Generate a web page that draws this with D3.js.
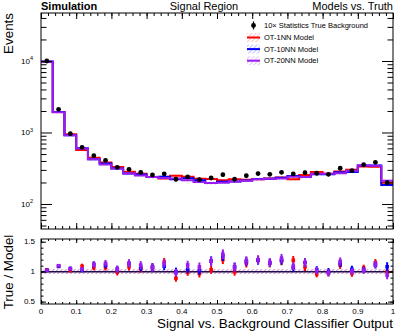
<!DOCTYPE html>
<html>
<head>
<meta charset="utf-8">
<script src="https://cdn.jsdelivr.net/npm/d3@7"></script>
<style>
  body { margin: 0; background: #fff; }
  svg { display: block; font-family: "Liberation Sans", Arial, sans-serif; }
</style>
</head>
<body>
<div id="chart"></div>
<script>
// 30 equal bins on [0, 1]
const nBins = 30;

// true background (10x stats) and its stat error
const trueBkg = [10000, 2110, 962, 621, 474, 408, 326, 305, 277, 255, 263, 222, 239, 219, 231,
  257, 222, 249, 266, 260, 277, 263, 274, 269, 260, 316, 292, 355, 383, 199];
const trueErr = [100, 46, 31, 25, 22, 20, 18, 17, 17, 16, 16, 15, 15, 15, 15,
  16, 15, 16, 16, 16, 17, 16, 17, 16, 16, 18, 17, 19, 20, 14];

// model predictions
const ot1nn = [9700, 1935, 943, 570, 443, 381, 329, 282, 264, 238, 227, 249, 241, 226, 224,
  214, 222, 218, 222, 228, 235, 221, 254, 280, 265, 285, 301, 335, 333, 199];
const ot10nn = [9800, 1940, 916, 603, 423, 368, 313, 268, 259, 238, 241, 222, 230, 215, 196,
  204, 206, 213, 224, 226, 233, 246, 238, 261, 260, 277, 281, 345, 345, 184];
const ot20nn = [9800, 1920, 916, 597, 423, 358, 313, 268, 250, 238, 231, 227, 215, 203, 197,
  199, 206, 211, 222, 226, 227, 241, 238, 264, 265, 270, 292, 348, 342, 212];
const modelRelErr = [0.04, 0.04, 0.04];

const modelNames = ["OT-1NN Model", "OT-10NN Model", "OT-20NN Model"];
const modelColors = ["#ff0000", "#0000ff", "#9a1cf0"];
const hatchColors = ["#ff9a9a", "#9a9aff", "#d49af5"];

const xMajor = d3.range(0, 1.0001, 0.1);
const xMinor = d3.range(0, 1.0001, 0.02);
const yMajor = [100, 1000, 10000];
const yMinor = [50, 60, 70, 80, 90, 200, 300, 400, 500, 600, 700, 800, 900,
  2000, 3000, 4000, 5000, 6000, 7000, 8000, 9000, 20000, 30000, 40000];
const rMajor = [0.5, 1, 1.5];
const rMinor = [0.5, 0.6, 0.7, 0.8, 0.9, 1, 1.1, 1.2, 1.3, 1.4, 1.5];

const W = 407, H = 335;
const svg = d3.select("#chart").append("svg").attr("width", W).attr("height", H);

const x = d3.scaleLinear().domain([0, 1]).range([41, 393]);
const y = d3.scaleLog().domain([44.7, 46900]).range([229, 13]);
const yr = d3.scaleLinear().domain([0.46, 1.545]).range([304, 239]);

const edges = d3.range(nBins + 1).map(i => i / nBins);
const centers = d3.range(nBins).map(i => (i + 0.5) / nBins);
const models = [ot1nn, ot10nn, ot20nn];

// hatch patterns
const defs = svg.append("defs");
hatchColors.forEach((c, i) => {
  const p = defs.append("pattern").attr("id", "hatch" + i).attr("patternUnits", "userSpaceOnUse")
    .attr("width", 3).attr("height", 3).attr("patternTransform", "rotate(45)");
  p.append("line").attr("x1", 0).attr("y1", 0).attr("x2", 0).attr("y2", 3)
    .attr("stroke", c).attr("stroke-width", 1.2);
});
defs.append("clipPath").attr("id", "clipTop").append("rect")
  .attr("x", 41).attr("y", 13).attr("width", 352).attr("height", 216);
defs.append("clipPath").attr("id", "clipRatio").append("rect")
  .attr("x", 41).attr("y", 239).attr("width", 352).attr("height", 65);

// ---------- top panel ----------
const topG = svg.append("g").attr("clip-path", "url(#clipTop)");

models.forEach((m, k) => {
  topG.append("g").selectAll("rect").data(m).enter().append("rect")
    .attr("x", (d, i) => x(edges[i]))
    .attr("width", (d, i) => x(edges[i + 1]) - x(edges[i]))
    .attr("y", d => y(d * (1 + modelRelErr[k])))
    .attr("height", d => y(d * (1 - modelRelErr[k])) - y(d * (1 + modelRelErr[k])))
    .attr("fill", "url(#hatch" + k + ")");
});

const step = d3.line().curve(d3.curveStepAfter).x(d => x(d[0])).y(d => y(d[1]));
models.forEach((m, k) => {
  const pts = m.map((v, i) => [edges[i], v]).concat([[1, m[nBins - 1]]]);
  topG.append("path").attr("d", step(pts)).attr("fill", "none")
    .attr("stroke", modelColors[k]).attr("stroke-width", 2);
});

topG.append("g").selectAll("line").data(trueBkg).enter().append("line")
  .attr("x1", (d, i) => x(centers[i])).attr("x2", (d, i) => x(centers[i]))
  .attr("y1", (d, i) => y(d - trueErr[i])).attr("y2", (d, i) => y(d + trueErr[i]))
  .attr("stroke", "#000").attr("stroke-width", 1.2);
topG.append("g").selectAll("circle").data(trueBkg).enter().append("circle")
  .attr("cx", (d, i) => x(centers[i])).attr("cy", d => y(d)).attr("r", 2.4).attr("fill", "#000");

// ---------- ratio panel ----------
const rat = svg.append("g").attr("clip-path", "url(#clipRatio)");
[0, 1, 2].forEach(k => {
  rat.append("rect").attr("x", x(0)).attr("width", x(1) - x(0))
    .attr("y", yr(1 + modelRelErr[k])).attr("height", yr(1 - modelRelErr[k]) - yr(1 + modelRelErr[k]))
    .attr("fill", "url(#hatch" + (2 - k) + ")");
});
rat.append("line").attr("x1", x(0)).attr("x2", x(1)).attr("y1", yr(1)).attr("y2", yr(1))
  .attr("stroke", "#1c1050").attr("stroke-width", 1.5);

models.forEach((m, k) => {
  const g = rat.append("g");
  const ratio = trueBkg.map((t, i) => t / m[i]);
  const rErr = trueErr.map((e, i) => e / m[i]);
  g.selectAll("line").data(ratio).enter().append("line")
    .attr("x1", (d, i) => x(centers[i])).attr("x2", (d, i) => x(centers[i]))
    .attr("y1", (d, i) => yr(d - rErr[i])).attr("y2", (d, i) => yr(d + rErr[i]))
    .attr("stroke", modelColors[k]).attr("stroke-width", 2);
  g.selectAll("rect").data(ratio).enter().append("rect")
    .attr("x", (d, i) => x(centers[i]) - 1.8).attr("y", d => yr(d) - 1.8)
    .attr("width", 3.6).attr("height", 3.6).attr("fill", modelColors[k]);
});

// ---------- axes ----------
function tickSet(g, axis, values, size) {
  g.call(axis.tickValues(values).tickSize(size).tickFormat(""));
  g.select(".domain").remove();
  g.selectAll("line").attr("stroke", "#000");
}
function frameAxes(yScale, yT, yB, yMaj, yMin, xLen, yLen) {
  const a = svg.append("g");
  tickSet(a.append("g").attr("transform", `translate(0,${yB})`), d3.axisBottom(x), xMajor, -xLen);
  tickSet(a.append("g").attr("transform", `translate(0,${yB})`), d3.axisBottom(x), xMinor, -xLen / 2);
  tickSet(a.append("g").attr("transform", `translate(0,${yT})`), d3.axisTop(x), xMajor, -xLen);
  tickSet(a.append("g").attr("transform", `translate(0,${yT})`), d3.axisTop(x), xMinor, -xLen / 2);
  tickSet(a.append("g").attr("transform", "translate(41,0)"), d3.axisLeft(yScale), yMaj, -yLen);
  tickSet(a.append("g").attr("transform", "translate(41,0)"), d3.axisLeft(yScale), yMin, -yLen / 2);
  tickSet(a.append("g").attr("transform", "translate(393,0)"), d3.axisRight(yScale), yMaj, -yLen);
  tickSet(a.append("g").attr("transform", "translate(393,0)"), d3.axisRight(yScale), yMin, -yLen / 2);
  a.append("rect").attr("x", 41).attr("y", yT).attr("width", 352).attr("height", yB - yT)
    .attr("fill", "none").attr("stroke", "#000").attr("stroke-width", 1);
}
frameAxes(y, 13, 229, yMajor, yMinor, 6, 11);
frameAxes(yr, 239, 304, rMajor, rMinor, 4, 5);

// tick labels
const exp = { 100: "2", 1000: "3", 10000: "4" };
yMajor.forEach(v => {
  const t = svg.append("text").attr("x", 33).attr("y", y(v) + 3).attr("text-anchor", "end")
    .attr("font-size", 8).text("10");
  t.append("tspan").attr("dy", -3.5).attr("font-size", 5.5).text(exp[v]);
});
svg.append("g").selectAll("text").data(rMajor).enter().append("text")
  .attr("x", 35).attr("y", d => yr(d) + 2.8).attr("text-anchor", "end")
  .attr("font-size", 8).text(d => d);
svg.append("g").selectAll("text").data(xMajor).enter().append("text")
  .attr("x", d => x(d)).attr("y", 314).attr("text-anchor", "middle")
  .attr("font-size", 8).text(d => d3.format("~g")(+d.toFixed(1)));

// titles
svg.append("text").attr("x", 41).attr("y", 9.5).attr("font-size", 11).attr("font-weight", "bold").text("Simulation");
svg.append("text").attr("x", 204).attr("y", 9.5).attr("font-size", 11).attr("text-anchor", "middle").text("Signal Region");
svg.append("text").attr("x", 393).attr("y", 9.5).attr("font-size", 11).attr("text-anchor", "end").text("Models vs. Truth");
svg.append("text").attr("transform", "translate(13,13) rotate(-90)").attr("text-anchor", "end")
  .attr("font-size", 13.4).text("Events");
svg.append("text").attr("transform", "translate(13,272) rotate(-90)").attr("text-anchor", "middle")
  .attr("font-size", 13.4).text("True / Model");
svg.append("text").attr("x", 393).attr("y", 328).attr("text-anchor", "end")
  .attr("font-size", 13.4).text("Signal vs. Background Classifier Output");

// legend
const lg = svg.append("g");
lg.append("line").attr("x1", 253.5).attr("x2", 253.5).attr("y1", 21.5).attr("y2", 29.5)
  .attr("stroke", "#000").attr("stroke-width", 1.2);
lg.append("circle").attr("cx", 253.5).attr("cy", 25.5).attr("r", 2.4).attr("fill", "#000");
lg.append("text").attr("x", 264).attr("y", 28.2).attr("font-size", 7.5).text("10\u00d7 Statistics True Background");
modelNames.forEach((n, k) => {
  const yy = 37.5 + k * 11.6;
  lg.append("rect").attr("x", 247).attr("y", yy - 4.5).attr("width", 13).attr("height", 9)
    .attr("fill", "url(#hatch" + k + ")");
  lg.append("line").attr("x1", 247).attr("x2", 260).attr("y1", yy).attr("y2", yy)
    .attr("stroke", modelColors[k]).attr("stroke-width", 2);
  lg.append("text").attr("x", 264).attr("y", yy + 2.7).attr("font-size", 7.5).text(n);
});
</script>
</body>
</html>
